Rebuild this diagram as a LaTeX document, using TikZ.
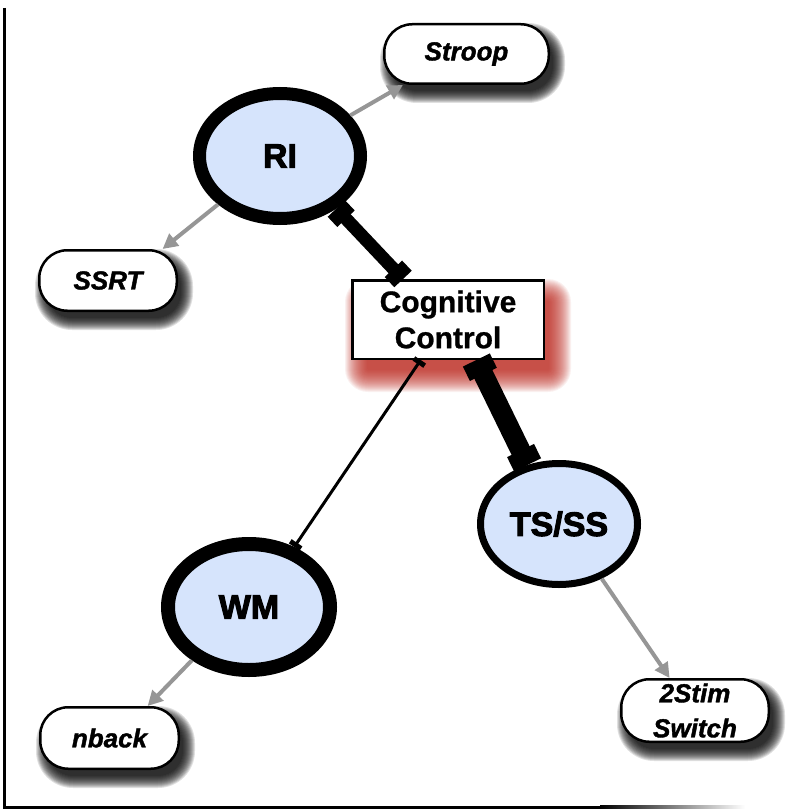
\documentclass[tikz,border=0pt]{standalone}
\usepackage{fontspec}
\setmainfont{Liberation Sans}
\newfontfamily\heavyfont{Liberation Sans Bold}[FakeBold=3]
\newfontfamily\heavyital{Liberation Sans Bold Italic}[FakeBold=1.5]
\newfontfamily\semiheavy{Liberation Sans Bold}[FakeBold=0.8]
\usetikzlibrary{arrows.meta,calc,shapes.geometric}
\pgfdeclarelayer{background}
\pgfsetlayers{background,main}
\definecolor{ellfill}{RGB}{214,228,252}
\definecolor{arrgray}{RGB}{150,150,150}
\definecolor{glowred}{RGB}{185,35,25}
\tikzset{
  concept/.style={ellipse, draw=black, fill=ellfill, inner sep=0pt,
    font=\heavyfont\fontsize{34}{40}\selectfont},
  measure/.style={draw=black, line width=2.5pt, fill=white, rounded corners=28pt,
    inner sep=0pt, align=center, font=\heavyital\fontsize{26}{35}\selectfont},
  central/.style={draw=black, line width=2.5pt, fill=white, inner sep=0pt,
    align=center, font=\semiheavy\fontsize{30}{36}\selectfont},
  measarrow/.style={draw=arrgray, line width=4pt, -{Triangle[length=15pt,width=15pt]}},
  inhib/.style={draw=black},
}
\newcommand{\boxshadow}[1]{%
  \foreach \r in {-3,...,9}{%
    \pgfmathsetmacro\rc{28+\r}%
    \fill[black, opacity=0.12, rounded corners=\rc pt]
      ($(#1.south west)+(6-\r,9+\r)$) rectangle ($(#1.north east)+(6+\r,9-\r)$);
  }}
\begin{document}
\begin{tikzpicture}[x=1pt,y=-1pt]
\useasboundingbox (0,0) rectangle (789,810);

% frame
\draw[line width=3pt] (4,8) -- (4,807) -- (600,807);
\shade[left color=black, right color=white] (600,805.5) rectangle (745,808.5);

% concept ellipses
\node[concept, line width=13pt, minimum width=161pt, minimum height=125pt] (RI) at (280,156) {RI};
\node[concept, line width=14pt, minimum width=162pt, minimum height=126pt] (WM) at (249,607) {WM};
\node[concept, line width=7pt, minimum width=157pt, minimum height=121pt] (TSSS) at (559,524) {TS/SS};

% central box
\node[central, minimum width=191.5pt, minimum height=78.5pt] (CC) at (448,319.5) {Cognitive\\Control};

% measure boxes
\node[measure, minimum width=164.5pt, minimum height=59.5pt] (Stroop) at (466.5,54) {Stroop};
\node[measure, minimum width=137.5pt, minimum height=60.5pt] (SSRT) at (108,280.5) {SSRT};
\node[measure, minimum width=138.5pt, minimum height=61.5pt] (nback) at (109.5,738) {nback};
\node[measure, minimum width=147.5pt, minimum height=62.5pt] (Switch) at (695,710.5) {2Stim\\Switch};

% shadows and glow
\begin{pgfonlayer}{background}
  \boxshadow{Stroop}
  \boxshadow{SSRT}
  \boxshadow{nback}
  \boxshadow{Switch}
  \foreach \r in {-6,...,16}{%
    \fill[glowred, opacity=0.065, rounded corners=\r pt+7pt]
      ($(CC.south west)+(10-\r,16+\r)$) rectangle ($(CC.north east)+(10+\r,16-\r)$);
  }
\end{pgfonlayer}

% inhibitory-style connectors
\draw[inhib, line width=13pt, {Rectangle[length=14pt,width=24pt]}-{Rectangle[length=14pt,width=24pt]}]
  (RI.-43) -- (CC.138.6);
\draw[inhib, line width=20pt, {Rectangle[length=16pt,width=30pt]}-{Rectangle[length=16pt,width=30pt]}]
  (CC.-55.3) -- (TSSS.118);
\draw[inhib, line width=3pt, {Rectangle[length=5pt,width=13pt]}-{Rectangle[length=5pt,width=13pt]}]
  (CC.236.3) -- (WM.53);

% measurement arrows
\draw[measarrow] (RI.30) -- (Stroop.206);
\draw[measarrow] (RI.218) -- (SSRT.30);
\draw[measarrow] (WM.223) -- (nback.40);
\draw[measarrow] (TSSS.-52.8) -- (Switch.128);
\end{tikzpicture}
\end{document}
